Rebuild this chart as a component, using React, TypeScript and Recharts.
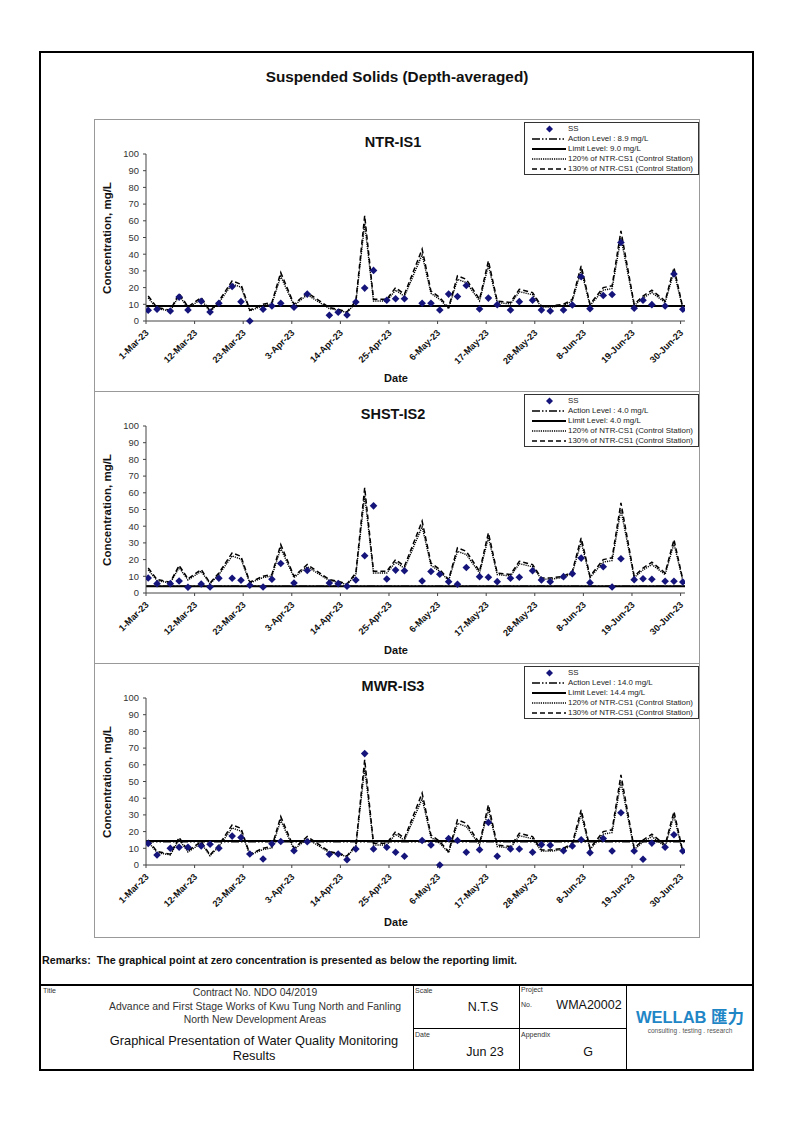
import React from "react";
import { ComposedChart, Line, Scatter, XAxis, YAxis, ReferenceLine } from "recharts";

const FONT = "'Liberation Sans', Arial, Helvetica, sans-serif";

// Sample days (days since 1-Mar-23)
const SAMPLE_DAYS = [0, 2, 5, 7, 9, 12, 14, 16, 19, 21, 23, 26, 28, 30, 33, 36, 41, 43, 45, 47, 49, 51, 54, 56, 58, 62, 64, 66, 68, 70, 72, 75, 77, 79, 82, 84, 87, 89, 91, 94, 96, 98, 100, 103, 105, 107, 110, 112, 114, 117, 119, 121];

// NTR-CS1 control station SS (mg/L)
const CONTROL_CS1 = [11.5, 6.2, 5.0, 12.7, 6.5, 10.8, 4.6, 9.2, 18.5, 16.9, 5.0, 7.7, 8.5, 22.3, 7.7, 13.1, 6.2, 5.4, 4.2, 9.2, 48.5, 10.0, 10.0, 15.4, 12.3, 33.1, 13.8, 10.8, 6.2, 20.8, 19.2, 10.0, 27.7, 9.2, 8.5, 14.6, 13.1, 6.9, 6.9, 7.7, 10.0, 25.4, 7.7, 15.4, 16.2, 41.5, 7.7, 11.5, 14.2, 9.2, 24.6, 6.2];

const SS_NTR_IS1 = [6.4, 7.0, 6.0, 14.3, 6.6, 11.8, 5.4, 10.6, 20.7, 11.6, 0, 7.0, 9.0, 10.6, 8.2, 16.1, 3.4, 5.2, 3.6, 11.4, 19.7, 30.3, 12.4, 13.3, 13.3, 10.6, 10.6, 6.6, 16.1, 14.7, 21.3, 7.2, 13.7, 9.8, 6.6, 11.6, 12.5, 6.6, 6.0, 6.6, 9.6, 26.5, 7.4, 15.3, 15.9, 47.0, 7.6, 12.4, 9.8, 9.0, 28.1, 7.0];
const SS_SHST_IS2 = [9.0, 5.6, 5.6, 7.2, 3.4, 5.4, 3.6, 8.8, 8.8, 7.6, 4.6, 3.6, 8.2, 17.7, 6.0, 13.5, 6.0, 5.6, 4.0, 7.8, 22.3, 52.2, 8.4, 13.7, 13.3, 7.2, 12.9, 11.2, 6.8, 5.2, 15.3, 9.8, 9.4, 6.8, 8.8, 9.4, 13.3, 7.8, 6.8, 9.8, 11.6, 20.9, 6.2, 15.7, 3.6, 20.5, 8.0, 8.5, 8.2, 7.0, 7.0, 6.6];
const SS_MWR_IS3 = [12.9, 6.0, 10.0, 10.6, 10.6, 11.4, 12.4, 10.0, 17.3, 16.5, 6.6, 3.6, 12.7, 14.1, 8.6, 13.9, 6.4, 6.6, 3.2, 9.6, 66.7, 9.6, 10.6, 7.6, 5.2, 14.7, 12.0, 0, 15.9, 14.7, 7.6, 9.2, 25.5, 5.2, 9.6, 9.6, 7.6, 12.2, 11.8, 8.6, 11.4, 15.1, 7.4, 15.8, 8.4, 31.3, 8.4, 3.4, 13.1, 10.6, 18.1, 8.4];

const TICK_DAYS = [0, 11, 22, 33, 44, 55, 66, 77, 88, 99, 110, 121];
const TICK_LABELS = ["1-Mar-23", "12-Mar-23", "23-Mar-23", "3-Apr-23", "14-Apr-23", "25-Apr-23", "6-May-23", "17-May-23", "28-May-23", "8-Jun-23", "19-Jun-23", "30-Jun-23"];
const Y_TICKS = [0, 10, 20, 30, 40, 50, 60, 70, 80, 90, 100];

const STATION_NAMES = ["NTR-IS1", "SHST-IS2", "MWR-IS3"];
const STATION_SS = [SS_NTR_IS1, SS_SHST_IS2, SS_MWR_IS3];
const ACTION_LEVELS = [8.9, 4.0, 14.0];
const LIMIT_LEVELS = [9.0, 4.0, 14.4];
const ACTION_LABELS = ["Action Level : 8.9 mg/L", "Action Level : 4.0 mg/L", "Action Level : 14.0 mg/L"];
const LIMIT_LABELS = ["Limit Level: 9.0 mg/L", "Limit Level: 4.0 mg/L", "Limit Level: 14.4 mg/L"];

const SS_COLOR = "#14147a";

const Diamond = (props: any) => {
  const { cx, cy } = props;
  if (cx == null || cy == null) return null;
  const r = 3.8;
  return <path d={`M${cx},${cy - r}L${cx + r},${cy}L${cx},${cy + r}L${cx - r},${cy}Z`} fill={SS_COLOR} />;
};

const XTick = (props: any) => {
  const { x, y, payload } = props;
  const idx = TICK_DAYS.indexOf(payload.value);
  const ax = x + 1;
  const ay = y + 5;
  return (
    <text x={ax} y={ay} dy="0.35em" textAnchor="end" transform={`rotate(-45 ${ax} ${ay})`} fontSize={9.2} fontWeight="bold" fill="#111" fontFamily={FONT}>
      {TICK_LABELS[idx]}
    </text>
  );
};

const T = ({ x, y, size, bold, anchor = "start", color = "#111", children }: any) => {
  const tx = anchor === "middle" ? "-50%" : anchor === "end" ? "-100%" : "0";
  return (
    <div style={{ position: "absolute", left: x, top: y, transform: `translate(${tx}, -50%)`, fontSize: size, fontWeight: bold ? "bold" : "normal", fontFamily: FONT, color, whiteSpace: "nowrap", lineHeight: 1 }}>
      {children}
    </div>
  );
};

const LegendBox = ({ idx }: { idx: number }) => {
  const rows = [
    { label: "SS", kind: "ss" },
    { label: ACTION_LABELS[idx], kind: "action" },
    { label: LIMIT_LABELS[idx], kind: "limit" },
    { label: "120% of NTR-CS1 (Control Station)", kind: "c120" },
    { label: "130% of NTR-CS1 (Control Station)", kind: "c130" },
  ];
  return (
    <div style={{ position: "absolute", left: 429, top: 2, width: 175, height: 53, border: "1px solid #333", background: "#fff", boxSizing: "border-box" }}>
      {rows.map((r, i) => (
        <div key={i} style={{ position: "absolute", left: 0, top: 1 + i * 10, height: 10, width: 173 }}>
          <svg width={40} height={10} style={{ position: "absolute", left: 6, top: 0 }}>
            {r.kind === "ss" && <path d="M18.5,1.5L22,5L18.5,8.5L15,5Z" fill={SS_COLOR} />}
            {r.kind === "action" && <line x1={1} y1={5} x2={35} y2={5} stroke="#000" strokeWidth={1.6} strokeDasharray="8 2 1.5 2 1.5 2" />}
            {r.kind === "limit" && <line x1={1} y1={5} x2={35} y2={5} stroke="#000" strokeWidth={2} />}
            {r.kind === "c120" && <line x1={1} y1={5} x2={35} y2={5} stroke="#000" strokeWidth={1.3} strokeDasharray="1.2 1" />}
            {r.kind === "c130" && <line x1={1} y1={5} x2={35} y2={5} stroke="#000" strokeWidth={1.6} strokeDasharray="5 3" />}
          </svg>
          <span style={{ position: "absolute", left: 43, top: 5, transform: "translateY(-50%)", fontSize: 7.9, fontFamily: FONT, color: "#222", whiteSpace: "nowrap", lineHeight: 1 }}>{r.label}</span>
        </div>
      ))}
    </div>
  );
};

const Panel = ({ idx, top, height }: { idx: number; top: number; height: number }) => {
  const ss = STATION_SS[idx];
  const rows = SAMPLE_DAYS.map((d, i) => ({
    x: d + 0.5,
    ss: ss[i],
    c120: CONTROL_CS1[i] * 1.2,
    c130: CONTROL_CS1[i] * 1.3,
  }));
  return (
    <div style={{ position: "absolute", left: 94, top, width: 606, height, border: "1px solid #999", boxSizing: "border-box", background: "#fff" }}>
      <div style={{ position: "absolute", left: -1, top: -1 }}>
        <ComposedChart width={606} height={height} data={rows} margin={{ top: 35, right: 15, bottom: height - 242, left: 12 }}>
          <XAxis
            type="number"
            dataKey="x"
            domain={[0, 122]}
            ticks={TICK_DAYS}
            interval={0}
            tickSize={3}
            tickMargin={2}
            height={40}
            axisLine={{ stroke: "#444" }}
            tickLine={{ stroke: "#444" }}
            tick={<XTick />}
            allowDataOverflow
          />
          <YAxis
            type="number"
            domain={[0, 100]}
            ticks={Y_TICKS}
            interval={0}
            tickSize={3}
            tickMargin={4}
            width={40}
            axisLine={{ stroke: "#444" }}
            tickLine={{ stroke: "#444" }}
            tick={{ fontSize: 9.4, fill: "#333", fontFamily: FONT }}
          />
          <Line type="linear" dataKey="c120" stroke="#000" strokeWidth={1.4} strokeDasharray="1.2 1" dot={false} activeDot={false} isAnimationActive={false} />
          <Line type="linear" dataKey="c130" stroke="#000" strokeWidth={1.5} strokeDasharray="5 3" dot={false} activeDot={false} isAnimationActive={false} />
          <ReferenceLine y={ACTION_LEVELS[idx]} stroke="#000" strokeWidth={1.6} strokeDasharray="8 2 1.5 2 1.5 2" />
          <ReferenceLine y={LIMIT_LEVELS[idx]} stroke="#000" strokeWidth={2} />
          <Scatter dataKey="ss" shape={<Diamond />} isAnimationActive={false} />
        </ComposedChart>
      </div>
      <T x={298} y={22} size={14.5} bold anchor="middle">{STATION_NAMES[idx]}</T>
      <div style={{ position: "absolute", left: 13, top: 118, transform: "translate(-50%, -50%) rotate(-90deg)", fontSize: 11.5, fontWeight: "bold", fontFamily: FONT, color: "#111", whiteSpace: "nowrap", lineHeight: 1 }}>
        Concentration, mg/L
      </div>
      <T x={301} y={258} size={11} bold anchor="middle">Date</T>
      <LegendBox idx={idx} />
    </div>
  );
};

export default function App() {
  return (
    <div style={{ position: "absolute", left: 0, top: 0, width: 794, height: 1123, background: "#fff", fontFamily: FONT }}>
      {/* outer frame */}
      <div style={{ position: "absolute", left: 39, top: 51, width: 715, height: 1020, border: "2px solid #000", boxSizing: "border-box" }} />
      <T x={397} y={77} size={15.3} bold anchor="middle">Suspended Solids (Depth-averaged)</T>

      <Panel idx={0} top={119} height={273} />
      <Panel idx={1} top={391} height={273} />
      <Panel idx={2} top={663} height={275} />

      <T x={42} y={960} size={10.7} bold>Remarks:&nbsp; The graphical point at zero concentration is presented as below the reporting limit.</T>

      {/* title block lines */}
      <div style={{ position: "absolute", left: 39, top: 984, width: 715, height: 2, background: "#000" }} />
      <div style={{ position: "absolute", left: 413, top: 985, width: 1, height: 85, background: "#000" }} />
      <div style={{ position: "absolute", left: 519, top: 985, width: 1, height: 85, background: "#000" }} />
      <div style={{ position: "absolute", left: 626, top: 985, width: 1, height: 85, background: "#000" }} />
      <div style={{ position: "absolute", left: 413, top: 1028, width: 213, height: 1, background: "#000" }} />

      <T x={43} y={990} size={7} color="#333">Title</T>
      <T x={255} y={993} size={10.4} anchor="middle" color="#333">Contract No. NDO 04/2019</T>
      <T x={255} y={1006.5} size={10.4} anchor="middle" color="#333">Advance and First Stage Works of Kwu Tung North and Fanling</T>
      <T x={255} y={1020} size={10.4} anchor="middle" color="#333">North New Development Areas</T>
      <T x={254} y={1041} size={12.8} anchor="middle">Graphical Presentation of Water Quality Monitoring</T>
      <T x={254} y={1056} size={12.8} anchor="middle">Results</T>

      <T x={415} y={990} size={7} color="#333">Scale</T>
      <T x={483} y={1007} size={12.5} anchor="middle">N.T.S</T>
      <T x={521} y={989} size={7} color="#333">Project</T>
      <T x={521} y={1004} size={7} color="#333">No.</T>
      <T x={589} y={1005} size={12.5} anchor="middle">WMA20002</T>
      <T x={415} y={1034} size={7} color="#333">Date</T>
      <T x={485} y={1052} size={12.5} anchor="middle">Jun 23</T>
      <T x={521} y={1034} size={7} color="#333">Appendix</T>
      <T x={588} y={1052} size={12.5} anchor="middle">G</T>

      <div style={{ position: "absolute", left: 690, top: 1016, transform: "translate(-50%, -50%)", fontSize: 16.5, fontWeight: "bold", fontFamily: FONT, color: "#1f86c6", whiteSpace: "nowrap", lineHeight: "14px", height: 14 }}>
        WELLAB <span style={{ fontFamily: "'Noto Sans CJK TC', sans-serif" }}>匯力</span>
      </div>
      <T x={690} y={1031} size={6.5} anchor="middle" color="#555">consulting . testing . research</T>
    </div>
  );
}
